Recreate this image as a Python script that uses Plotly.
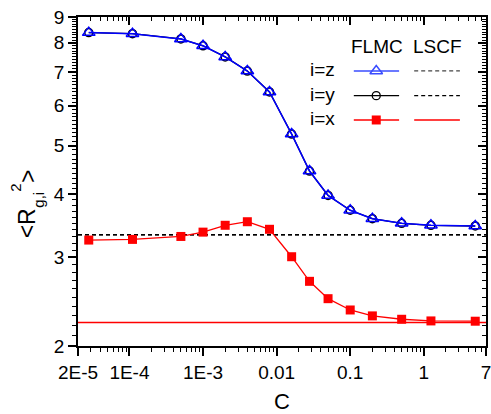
import numpy as np
import plotly.graph_objects as go

# ---- data ----
C = [2.8e-5, 1.1e-4, 5e-4, 1e-3, 2e-3, 4e-3, 8e-3, 0.016, 0.028, 0.05, 0.1, 0.2, 0.5, 1.25, 5]
flmc_z = [8.38, 8.34, 8.14, 7.89, 7.50, 7.03, 6.39, 5.27, 4.45, 3.98, 3.72, 3.58, 3.505, 3.473, 3.462]
flmc_y = [8.38, 8.34, 8.14, 7.89, 7.50, 7.03, 6.39, 5.27, 4.45, 3.98, 3.72, 3.58, 3.505, 3.473, 3.462]
flmc_x = [3.246, 3.256, 3.30, 3.366, 3.473, 3.53, 3.41, 3.008, 2.688, 2.483, 2.358, 2.295, 2.26, 2.243, 2.24]
lscf_z = 3.326
lscf_y = 3.326
lscf_x = 2.227

x_range = [2e-5, 7]
y_range = [2, 9]

x_tickvals = [2e-5, 1e-4, 1e-3, 0.01, 0.1, 1, 7]
x_ticktext = ["2E-5", "1E-4", "1E-3", "0.01", "0.1", "1", "7"]
y_tickvals = [2, 3, 4, 5, 6, 7, 8, 9]
y_ticktext = ["2", "3", "4", "5", "6", "7", "8", "9"]

x_minor = [m * 1e-5 for m in range(3, 10)] + [m * 1e-4 for m in range(2, 10)] + \
          [m * 1e-3 for m in range(2, 10)] + [m * 1e-2 for m in range(2, 10)] + \
          [m * 1e-1 for m in range(2, 10)] + [2, 3, 4, 5, 6]
y_minor = [round(2 + 0.1 * k, 2) for k in range(1, 70) if k % 10 != 0]

FONT = "Arial, Liberation Sans, sans-serif"
BLUE = "#0000ff"
RED = "#ff0000"
BLACK = "#000000"
EPS = 1e-6

xr = [np.log10(x_range[0]) - EPS, np.log10(x_range[1]) + EPS]
yr = [np.log10(y_range[0]) - EPS, np.log10(y_range[1]) + EPS]


def fx(f):  # fraction of plot width -> x data value (legend placement)
    return 10 ** (xr[0] + f * (xr[1] - xr[0]))


def fy(f):  # fraction of plot height -> y data value (legend placement)
    return 10 ** (yr[0] + f * (yr[1] - yr[0]))


fig = go.Figure()

# LSCF lines
fig.add_trace(go.Scatter(x=x_range, y=[lscf_z, lscf_z], mode="lines",
                         line=dict(color="#333333", width=1.3, dash="4px,3px"), showlegend=False))
fig.add_trace(go.Scatter(x=x_range, y=[lscf_y, lscf_y], mode="lines",
                         line=dict(color=BLACK, width=1.3, dash="4px,3px"), showlegend=False))
fig.add_trace(go.Scatter(x=x_range, y=[lscf_x, lscf_x], mode="lines",
                         line=dict(color=RED, width=1.3), showlegend=False))

# FLMC data
fig.add_trace(go.Scatter(x=C, y=flmc_y, mode="lines+markers",
                         line=dict(color=BLACK, width=1.3),
                         marker=dict(symbol="circle-open", size=8, color=BLACK, line=dict(width=1.5)),
                         showlegend=False))
fig.add_trace(go.Scatter(x=C, y=flmc_z, mode="lines+markers",
                         line=dict(color=BLUE, width=1.5),
                         marker=dict(symbol="triangle-up-open", size=11, color=BLUE, line=dict(width=1.5)),
                         showlegend=False))
fig.add_trace(go.Scatter(x=C, y=flmc_x, mode="lines+markers",
                         line=dict(color=RED, width=1.3),
                         marker=dict(symbol="square", size=9, color=RED),
                         showlegend=False))

# dummy traces so the twin (top / right) axes are drawn
fig.add_trace(go.Scatter(x=x_range, y=y_range, mode="markers", marker=dict(opacity=0),
                         xaxis="x2", yaxis="y", showlegend=False, hoverinfo="skip"))
fig.add_trace(go.Scatter(x=x_range, y=y_range, mode="markers", marker=dict(opacity=0),
                         xaxis="x", yaxis="y2", showlegend=False, hoverinfo="skip"))

# ---- custom two-column legend ----
leg = dict(flmc=(0.676, 0.787), lscf=(0.824, 0.936), mk=0.731,
           rows={"z": 0.836, "y": 0.761, "x": 0.687})
styles = {
    "z": dict(fl=dict(color="#3a4cff", width=1.5), mk=dict(symbol="triangle-up-open", size=11, color="#3a4cff", line=dict(width=1.5)),
              ls=dict(color="#444444", width=1.2, dash="4px,3px")),
    "y": dict(fl=dict(color=BLACK, width=1.3), mk=dict(symbol="circle-open", size=8, color=BLACK, line=dict(width=1.3)),
              ls=dict(color=BLACK, width=1.2, dash="4px,3px")),
    "x": dict(fl=dict(color=RED, width=1.3), mk=dict(symbol="square", size=9, color=RED),
              ls=dict(color=RED, width=1.3)),
}
for key, yy in leg["rows"].items():
    st = styles[key]
    fig.add_trace(go.Scatter(x=[fx(v) for v in leg["flmc"]], y=[fy(yy)] * 2, mode="lines", line=st["fl"],
                             showlegend=False, hoverinfo="skip"))
    fig.add_trace(go.Scatter(x=[fx(leg["mk"])], y=[fy(yy)], mode="markers", marker=st["mk"],
                             showlegend=False, hoverinfo="skip"))
    fig.add_trace(go.Scatter(x=[fx(v) for v in leg["lscf"]], y=[fy(yy)] * 2, mode="lines", line=st["ls"],
                             showlegend=False, hoverinfo="skip"))

annotations = [
    dict(text="FLMC", x=0.733, y=0.910, xref="paper", yref="paper", showarrow=False,
         font=dict(size=19, family=FONT, color=BLACK), xanchor="center", yanchor="middle"),
    dict(text="LSCF", x=0.881, y=0.910, xref="paper", yref="paper", showarrow=False,
         font=dict(size=19, family=FONT, color=BLACK), xanchor="center", yanchor="middle"),
]
for key, yy in leg["rows"].items():
    annotations.append(dict(text="i=" + key, x=0.563, y=yy + 0.004, xref="paper", yref="paper",
                            showarrow=False, font=dict(size=19, family=FONT, color=BLACK),
                            xanchor="left", yanchor="middle"))

# axis titles
annotations.append(dict(text="C", x=0.5, y=-0.170, xref="paper", yref="paper", showarrow=False,
                        font=dict(size=22, family=FONT, color=BLACK), xanchor="center", yanchor="middle"))
ytitle_parts = [
    ("&lt;R", -0.124, 0.374, 23),
    ("g,i", -0.097, 0.446, 15),
    ("2", -0.153, 0.480, 15),
    ("&gt;", -0.124, 0.515, 23),
]
for txt, px, py, sz in ytitle_parts:
    annotations.append(dict(text=txt, x=px, y=py, xref="paper", yref="paper", showarrow=False,
                            textangle=-90, font=dict(size=sz, family=FONT, color=BLACK),
                            xanchor="center", yanchor="middle"))

common_x = dict(type="log", range=xr, automargin=False,
                tickmode="array", tickvals=x_tickvals, showgrid=False, zeroline=False,
                showline=True, linecolor=BLACK, linewidth=1.5, tickwidth=1.5, ticklen=8,
                tickcolor=BLACK,
                minor=dict(tickmode="array", tickvals=x_minor, ticklen=4, tickwidth=1.2,
                           tickcolor=BLACK, showgrid=False))
common_y = dict(type="log", range=yr, automargin=False,
                tickmode="array", tickvals=y_tickvals, showgrid=False, zeroline=False,
                showline=True, linecolor=BLACK, linewidth=1.5, tickwidth=1.5, ticklen=8,
                tickcolor=BLACK,
                minor=dict(tickmode="array", tickvals=y_minor, ticklen=4, tickwidth=1.2,
                           tickcolor=BLACK, showgrid=False))

xaxis = dict(common_x, ticktext=x_ticktext, ticks="outside", mirror=True,
             ticklabeloverflow="allow",
             tickfont=dict(size=19, family=FONT, color=BLACK))
xaxis["minor"] = dict(common_x["minor"], ticks="outside")
yaxis = dict(common_y, ticktext=y_ticktext, ticks="outside", mirror=True,
             ticklabeloverflow="allow",
             tickfont=dict(size=19, family=FONT, color=BLACK))
yaxis["minor"] = dict(common_y["minor"], ticks="outside")
xaxis2 = dict(common_x, ticks="inside", showticklabels=False, overlaying="x", side="top", anchor="y")
xaxis2["minor"] = dict(common_x["minor"], ticks="inside")
yaxis2 = dict(common_y, ticks="inside", showticklabels=False, overlaying="y", side="right", anchor="x")
yaxis2["minor"] = dict(common_y["minor"], ticks="inside")

fig.update_layout(
    width=491, height=414,
    margin=dict(l=78, r=5, t=17, b=68),
    paper_bgcolor="white", plot_bgcolor="white",
    showlegend=False,
    xaxis=xaxis, yaxis=yaxis, xaxis2=xaxis2, yaxis2=yaxis2,
    annotations=annotations,
    font=dict(family=FONT, color=BLACK),
)

# remove the default page margin so the 491x414 figure fills the window exactly
fig.write_html("out.html",
               config={"displayModeBar": False},
               post_script="document.body.style.margin='0';document.documentElement.style.overflow='hidden';")
